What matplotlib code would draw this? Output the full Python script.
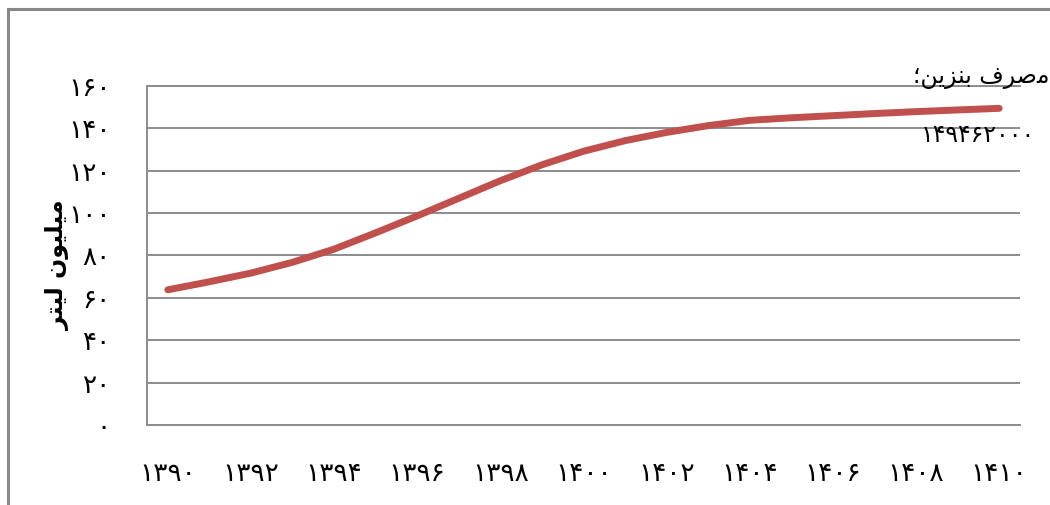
import matplotlib.pyplot as plt
from matplotlib.patches import Rectangle

# gasoline consumption forecast, million litres per year
years = list(range(1390, 1411))
consumption = [63.8, 67.6, 71.7, 76.8, 83.0, 90.7, 98.7, 107.0, 115.3, 122.8,
               129.2, 134.2, 138.1, 141.3, 143.8, 145.0, 146.0, 147.0, 147.9,
               148.7, 149.462]
year_ticks = list(range(1390, 1411, 2))
y_ticks = list(range(0, 161, 20))

FA_DIGITS = str.maketrans("0123456789", "۰۱۲۳۴۵۶۷۸۹")


def fa(n):
    return str(n).translate(FA_DIGITS)


# Arabic text pre-shaped with presentation forms, stored in visual order
ylabel_txt = "\uFEAE\uFE98\uFEF4\uFEDF \uFEE5\uFEEE\uFEF4\uFEE0\uFEF4\uFEE3"   # میلیون لیتر
series_txt = "\u061B\uFEE6\uFEF3\uFEB0\uFEE8\uFE91 \uFED1\uFEAE\uFEBB\uFEE3"   # مصرف بنزین؛

GRID = "#8c8c8c"
RED = "#C0504D"

fig = plt.figure(figsize=(10.5, 5.05), dpi=100)
ax = fig.add_axes([147 / 1050, 1 - 425 / 505, 873 / 1050, 339 / 505])

ax.plot(years, consumption, color=RED, lw=5, solid_capstyle="round",
        solid_joinstyle="round")

ax.set_xlim(1389.5, 1410.5)
ax.set_ylim(0, 160)
ax.set_yticks(y_ticks)
ax.set_yticklabels([fa(v) for v in y_ticks])
ax.set_xticks(year_ticks)
ax.set_xticklabels([fa(v) for v in year_ticks])
ax.tick_params(length=0, labelsize=19)
ax.tick_params(axis="y", pad=26)
ax.tick_params(axis="x", pad=26)

ax.grid(axis="y", color=GRID, lw=1.4)
ax.set_axisbelow(True)
for side in ("left", "top", "bottom"):
    ax.spines[side].set_color(GRID)
    ax.spines[side].set_linewidth(1.4)
ax.spines["right"].set_visible(False)

ax.set_ylabel(ylabel_txt, fontsize=17, fontweight="bold")
ax.yaxis.set_label_coords(-0.088, 0.47)

# data label at the last point
ax.annotate(series_txt, xy=(years[-1], consumption[-1]), xytext=(-18, 31),
            textcoords="offset pixels", ha="center", va="center", fontsize=17)
ax.annotate(fa(int(round(consumption[-1] * 1e6))), xy=(years[-1], consumption[-1]),
            xytext=(-21, -27), textcoords="offset pixels", ha="center",
            va="center", fontsize=17)

# chart border
fig.patches.append(Rectangle((8 / 1050, -0.5), 2, 1.5 - 9 / 505, fill=False,
                             edgecolor="#888888", lw=2.2,
                             transform=fig.transFigure))

fig.savefig("out.png", dpi=100)
